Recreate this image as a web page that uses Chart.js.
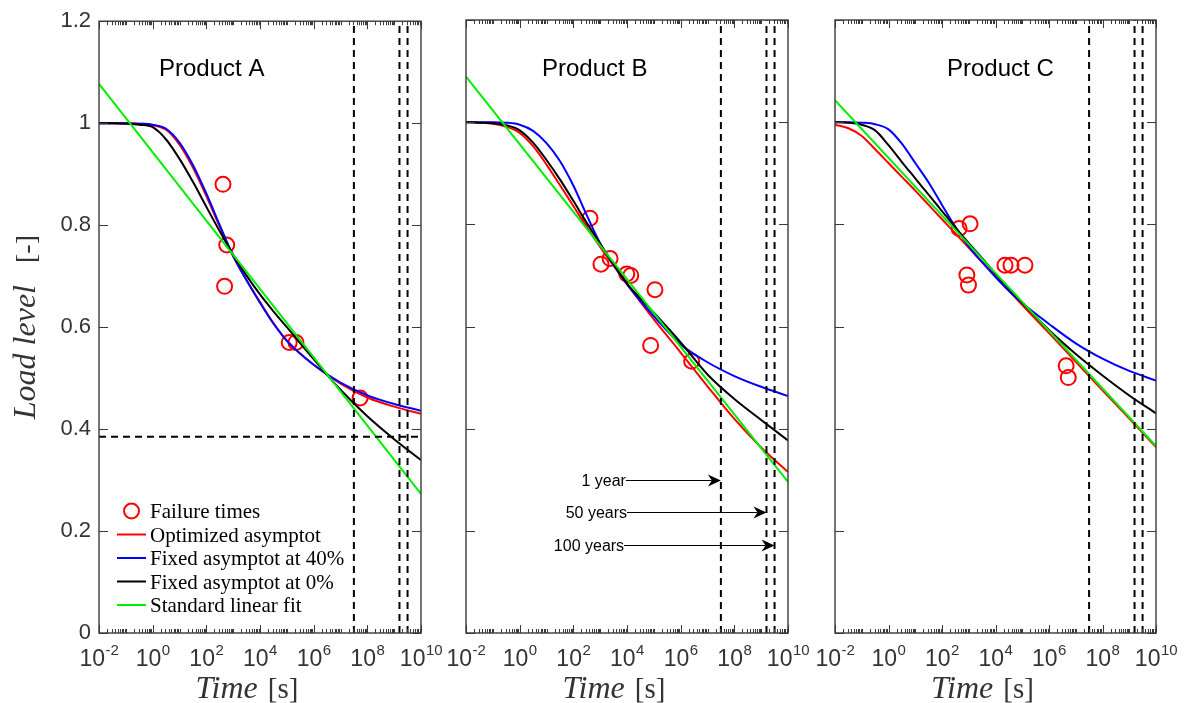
<!DOCTYPE html>
<html><head><meta charset="utf-8">
<script src="https://cdn.jsdelivr.net/npm/chart.js@4.4.1/dist/chart.umd.min.js"></script>
<style>
html,body{margin:0;padding:0;background:#fff;}
#wrap{position:relative;width:1185px;height:703px;overflow:hidden;background:#fff;}
canvas{position:absolute;left:0;top:0;}
</style></head><body>
<div id="wrap">
<canvas id="cA" width="1185" height="703"></canvas>
<canvas id="cB" width="1185" height="703"></canvas>
<canvas id="cC" width="1185" height="703"></canvas>
</div>
<script>
// ---------------- data ----------------
const timeGrid = [0.01, 0.0316, 0.1, 0.316, 1, 3.16, 10, 31.6, 100, 316, 1000, 3160, 1e4, 3.16e4, 1e5, 1e6, 1e7, 1e8, 1e9, 1e10];
const linearTimes = [0.01, 1e10];
const lifetimeTimes = [31536000, 1576800000, 3153600000];
const lifetimeLabels = ['1 year', '50 years', '100 years'];
const xTickTimes = [1e-2, 1e0, 1e2, 1e4, 1e6, 1e8, 1e10];
const xTickExponents = ['-2', '0', '2', '4', '6', '8', '10'];
const yTickValues = [0, 0.2, 0.4, 0.6, 0.8, 1, 1.2];
const productNames = ['Product A', 'Product B', 'Product C'];
const seriesNames = ['Failure times', 'Optimized asymptot', 'Fixed asymptot at 40%', 'Fixed asymptot at 0%', 'Standard linear fit'];

// Product A
const aFailTimes = [417, 575, 479, 1.23e5, 2.19e5, 5.37e7];
const aFailLoads = [0.880, 0.761, 0.680, 0.570, 0.570, 0.461];
const aOptimized = [1.000, 1.000, 1.000, 0.999, 0.996, 0.987, 0.958, 0.913, 0.857, 0.797, 0.739, 0.692, 0.649, 0.608, 0.574, 0.526, 0.489, 0.462, 0.444, 0.430];
const aFixed40   = [1.000, 1.000, 1.000, 0.999, 0.997, 0.989, 0.962, 0.918, 0.862, 0.800, 0.740, 0.692, 0.648, 0.607, 0.573, 0.526, 0.491, 0.466, 0.449, 0.436];
const aFixed0    = [1.000, 1.000, 0.999, 0.997, 0.992, 0.968, 0.930, 0.885, 0.836, 0.788, 0.742, 0.701, 0.664, 0.631, 0.600, 0.537, 0.477, 0.425, 0.380, 0.339];
const aLinear    = [1.077, 0.273];
const aReferenceLoad = 0.385;

// Product B
const bFailTimes = [417, 1072, 2344, 9800, 1.38e4, 1.1e5, 7.59e4, 2.57e6];
const bFailLoads = [0.812, 0.722, 0.733, 0.703, 0.700, 0.672, 0.563, 0.532];
const bOptimized = [1.000, 0.999, 0.997, 0.991, 0.979, 0.953, 0.917, 0.877, 0.836, 0.795, 0.756, 0.719, 0.683, 0.648, 0.614, 0.549, 0.483, 0.419, 0.363, 0.315];
const bFixed40   = [1.000, 1.000, 1.000, 0.999, 0.995, 0.983, 0.959, 0.924, 0.876, 0.818, 0.763, 0.721, 0.683, 0.650, 0.620, 0.565, 0.530, 0.503, 0.482, 0.464];
const bFixed0    = [1.000, 0.999, 0.998, 0.994, 0.984, 0.960, 0.926, 0.888, 0.846, 0.803, 0.762, 0.722, 0.684, 0.655, 0.627, 0.569, 0.506, 0.458, 0.417, 0.377];
const bLinear    = [1.089, 0.296];
const arrowStartTimes = [9120, 1e4, 7800];
const arrowLoads = [0.300, 0.237, 0.172];

// Product C
const cFailTimes = [436, 1122, 851, 977, 2.26e4, 3.8e4, 1.26e5, 4.37e6, 5.25e6];
const cFailLoads = [0.792, 0.801, 0.701, 0.681, 0.720, 0.720, 0.720, 0.523, 0.500];
const cOptimized = [0.995, 0.988, 0.973, 0.947, 0.920, 0.893, 0.866, 0.838, 0.810, 0.782, 0.754, 0.726, 0.698, 0.670, 0.642, 0.587, 0.531, 0.475, 0.420, 0.364];
const cFixed40   = [1.000, 1.000, 0.999, 0.996, 0.986, 0.958, 0.920, 0.882, 0.838, 0.795, 0.757, 0.726, 0.697, 0.670, 0.646, 0.605, 0.567, 0.537, 0.513, 0.494];
const cFixed0    = [1.000, 0.999, 0.995, 0.984, 0.955, 0.922, 0.890, 0.858, 0.826, 0.794, 0.763, 0.734, 0.703, 0.675, 0.647, 0.593, 0.546, 0.504, 0.465, 0.430];
const cLinear    = [1.043, 0.366];

// ---------------- styling / layout ----------------
const W = 1185, H = 703, TOP = 20, BOTTOM = 633;
const AXIS = '#3a3a3a';
const COLORS = { fail: '#ff0000', opt: '#ff0000', f40: '#0000ff', f0: '#000000', lin: '#00ee00' };
const SANS = '"Liberation Sans", Arial, Helvetica, sans-serif';
const SERIF = '"Liberation Serif", "Times New Roman", serif';

function pts(times, vals) { return times.map((t, i) => ({ x: t, y: vals[i] })); }

function curve(label, times, vals, color, order) {
  return { label, data: pts(times, vals), borderColor: color, borderWidth: 2, pointRadius: 0,
           cubicInterpolationMode: 'monotone', fill: false, order };
}
function dashed(data) {
  return { label: 'guide', data, borderColor: '#000', borderWidth: 2, borderDash: [7, 5],
           pointRadius: 0, fill: false, order: 0 };
}

function drawArrowHead(ctx, x, y) {
  ctx.beginPath();
  ctx.moveTo(x, y);
  ctx.lineTo(x - 13, y - 6);
  ctx.lineTo(x - 9, y);
  ctx.lineTo(x - 13, y + 6);
  ctx.closePath();
  ctx.fill();
}

const decor = {
  id: 'decor',
  afterDraw(chart, args, o) {
    const { ctx, chartArea: ca } = chart;
    const x = chart.scales.x, y = chart.scales.y;
    ctx.save();
    // inward tick marks
    ctx.strokeStyle = AXIS; ctx.lineWidth = 1;
    ctx.beginPath();
    for (let n = -2; n <= 10; n++) {
      for (let k = 1; k <= 9; k++) {
        const v = k * Math.pow(10, n);
        if (v > 1.0001e10) break;
        const px = Math.round(x.getPixelForValue(v)) + 0.5;
        const len = (k === 1 && n % 2 === 0) ? 8 : 4;
        ctx.moveTo(px, ca.bottom); ctx.lineTo(px, ca.bottom - len);
        ctx.moveTo(px, ca.top); ctx.lineTo(px, ca.top + len);
      }
    }
    for (const v of yTickValues) {
      const py = Math.round(y.getPixelForValue(v)) + 0.5;
      ctx.moveTo(ca.left, py); ctx.lineTo(ca.left + 9, py);
      ctx.moveTo(ca.right, py); ctx.lineTo(ca.right - 9, py);
    }
    ctx.stroke();
    // box
    ctx.lineWidth = 1.4;
    ctx.strokeRect(ca.left, ca.top, ca.right - ca.left, ca.bottom - ca.top);

    // x tick labels with exponents
    ctx.fillStyle = '#333';
    ctx.textBaseline = 'alphabetic';
    ctx.textAlign = 'left';
    xTickTimes.forEach((t, i) => {
      const px = x.getPixelForValue(t);
      ctx.font = '23px ' + SANS;
      const wb = ctx.measureText('10').width;
      ctx.font = '15px ' + SANS;
      const we = ctx.measureText(xTickExponents[i]).width;
      const x0 = px - (wb + we) / 2;
      ctx.font = '23px ' + SANS;
      ctx.fillText('10', x0, ca.bottom + 33);
      ctx.font = '15px ' + SANS;
      ctx.fillText(xTickExponents[i], x0 + wb + 0.5, ca.bottom + 22);
    });

    // x axis title
    const cx = (ca.left + ca.right) / 2 - 13;
    ctx.fillStyle = '#333';
    ctx.font = 'italic 32px ' + SERIF;
    const wt = ctx.measureText('Time').width;
    ctx.font = '29px ' + SERIF;
    const ws = ctx.measureText('[s]').width;
    const gap = 10;
    const sx = cx - (wt + gap + ws) / 2;
    ctx.font = 'italic 32px ' + SERIF;
    ctx.fillText('Time', sx, H - 5);
    ctx.font = '29px ' + SERIF;
    ctx.fillText('[s]', sx + wt + gap, H - 5);

    // product name
    ctx.fillStyle = '#000';
    ctx.font = '24px ' + SANS;
    ctx.fillText(o.name, ca.left + o.nameOffset, 76);

    // y axis title (panel A)
    if (o.yTitle) {
      ctx.save();
      ctx.translate(35, (ca.top + ca.bottom) / 2);
      ctx.rotate(-Math.PI / 2);
      ctx.fillStyle = '#333';
      ctx.font = 'italic 32px ' + SERIF;
      const w1 = ctx.measureText('Load level').width;
      ctx.font = '28px ' + SERIF;
      const w2 = ctx.measureText('[-]').width;
      const g = 22;
      const s0 = -(w1 + g + w2) / 2;
      ctx.font = 'italic 32px ' + SERIF;
      ctx.fillText('Load level', s0, 0);
      ctx.font = '28px ' + SERIF;
      ctx.fillText('[-]', s0 + w1 + g, 0);
      ctx.restore();
    }

    // legend (panel A)
    if (o.legend) {
      const colors = [COLORS.fail, COLORS.opt, COLORS.f40, COLORS.f0, COLORS.lin];
      const lx0 = ca.left + 18, lx1 = ca.left + 47, tx = ca.left + 51;
      ctx.font = '21px ' + SERIF;
      seriesNames.forEach((name, i) => {
        const ly = ca.bottom - 122 + i * 23.5;
        ctx.strokeStyle = colors[i];
        ctx.lineWidth = 2;
        ctx.beginPath();
        if (i === 0) {
          ctx.arc((lx0 + lx1) / 2, ly, 7.5, 0, Math.PI * 2);
        } else {
          ctx.moveTo(lx0, ly); ctx.lineTo(lx1, ly);
        }
        ctx.stroke();
        ctx.fillStyle = '#000';
        ctx.fillText(name, tx, ly + 7);
      });
    }

    // arrows with lifetime labels (panel B)
    if (o.arrows) {
      ctx.strokeStyle = '#000'; ctx.fillStyle = '#000'; ctx.lineWidth = 1;
      ctx.font = '16px ' + SANS;
      lifetimeLabels.forEach((lab, i) => {
        const x0 = x.getPixelForValue(arrowStartTimes[i]);
        const x1 = x.getPixelForValue(lifetimeTimes[i]);
        const py = Math.round(y.getPixelForValue(arrowLoads[i])) + 0.5;
        ctx.beginPath(); ctx.moveTo(x0, py); ctx.lineTo(x1 - 9, py); ctx.stroke();
        drawArrowHead(ctx, x1, py);
        ctx.textAlign = 'right'; ctx.textBaseline = 'middle';
        ctx.fillText(lab, x0, py + 1);
        ctx.textAlign = 'left'; ctx.textBaseline = 'alphabetic';
      });
    }
    ctx.restore();
  }
};

function makeChart(id, cfg) {
  const datasets = [
    { label: seriesNames[0], data: pts(cfg.failT, cfg.failV), showLine: false, pointRadius: 7.5,
      pointBorderWidth: 2, pointBorderColor: COLORS.fail, pointBackgroundColor: 'rgba(0,0,0,0)',
      borderColor: COLORS.fail, order: 5 },
    curve(seriesNames[1], timeGrid, cfg.opt, COLORS.opt, 4),
    curve(seriesNames[2], timeGrid, cfg.f40, COLORS.f40, 3),
    curve(seriesNames[3], timeGrid, cfg.f0, COLORS.f0, 2),
    curve(seriesNames[4], linearTimes, cfg.lin, COLORS.lin, 1)
  ];
  lifetimeTimes.forEach(t => datasets.push(dashed([{ x: t, y: 0 }, { x: t, y: 1.2 }])));
  if (cfg.refLoad !== undefined) {
    datasets.push(dashed([{ x: 0.01, y: cfg.refLoad }, { x: 1e10, y: cfg.refLoad }]));
  }
  const showY = !!cfg.yTitle;
  return new Chart(document.getElementById(id), {
    type: 'line',
    data: { datasets },
    options: {
      responsive: false, animation: false, events: [],
      layout: { autoPadding: false, padding: { left: showY ? 0 : cfg.left, right: W - cfg.right, top: TOP, bottom: H - BOTTOM } },
      plugins: { legend: { display: false }, tooltip: { enabled: false },
                 decor: { name: cfg.name, nameOffset: cfg.nameOffset, yTitle: cfg.yTitle, legend: cfg.legend, arrows: cfg.arrows } },
      scales: {
        x: { type: 'logarithmic', min: 0.01, max: 1e10, display: false },
        y: { type: 'linear', min: 0, max: 1.2, display: showY,
             grid: { display: false, drawTicks: false }, border: { display: false },
             ticks: { stepSize: 0.2, padding: 8, color: '#333', font: { family: SANS, size: 22 },
                      callback: v => String(Math.round(v * 10) / 10) },
             afterFit(s) { s.width = showY ? cfg.left : 0; } }
      }
    },
    plugins: [decor]
  });
}

makeChart('cA', { left: 99, right: 421, name: productNames[0], nameOffset: 60, yTitle: true, legend: true,
  failT: aFailTimes, failV: aFailLoads, opt: aOptimized, f40: aFixed40, f0: aFixed0, lin: aLinear, refLoad: aReferenceLoad });
makeChart('cB', { left: 466, right: 788, name: productNames[1], nameOffset: 76, arrows: true,
  failT: bFailTimes, failV: bFailLoads, opt: bOptimized, f40: bFixed40, f0: bFixed0, lin: bLinear });
makeChart('cC', { left: 835, right: 1156, name: productNames[2], nameOffset: 112,
  failT: cFailTimes, failV: cFailLoads, opt: cOptimized, f40: cFixed40, f0: cFixed0, lin: cLinear });
</script>
</body></html>
